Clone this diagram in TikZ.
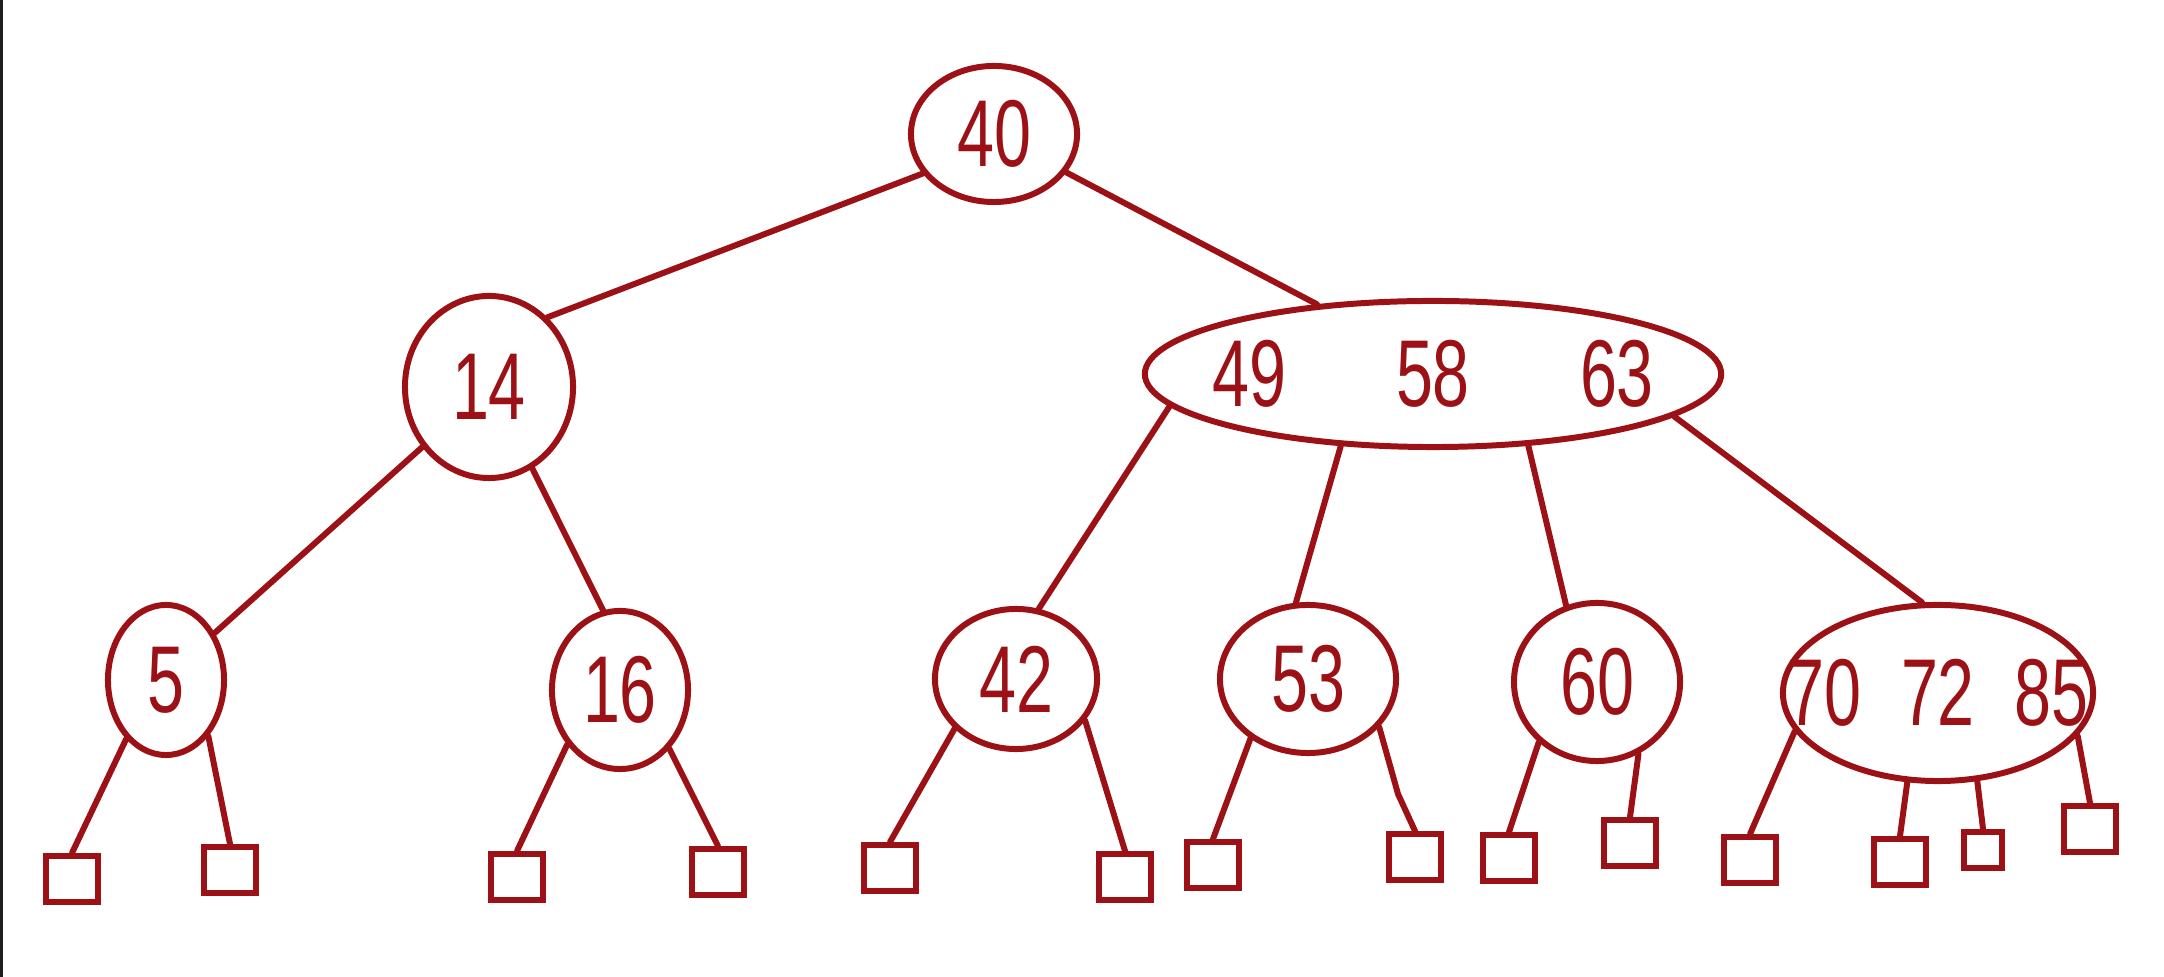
\documentclass[tikz,border=0pt]{standalone}
\usepackage{fontspec}
\setmainfont{Liberation Sans}
\newfontfamily\handfont{Liberation Sans}[FakeStretch=0.7]
\usetikzlibrary{shapes.geometric}
\definecolor{ink}{RGB}{155,17,22}
\definecolor{edgebar}{RGB}{30,30,34}
\begin{document}
\begin{tikzpicture}[x=0.01cm,y=-0.01cm,
  key/.style={ellipse, draw=ink, line width=1.7pt, inner sep=0pt},
  leaf/.style={rectangle, draw=ink, line width=1.7pt, minimum width=0.52cm, minimum height=0.46cm, inner sep=0pt},
  conn/.style={draw=ink, line width=1.7pt, line cap=round, line join=round},
  lbl/.style={text=ink, inner sep=0pt, font=\handfont\fontsize{27}{27}\selectfont}
]
\useasboundingbox (0,0) rectangle (2164,977);
\fill[white] (0,0) rectangle (2164,977);
\fill[edgebar] (0,0) rectangle (2.5,977);

% internal nodes
\node[key, minimum width=1.66cm, minimum height=1.36cm, label={[lbl]center:40}] (r) at (994,134) {};
\node[key, minimum width=1.68cm, minimum height=1.82cm, label={[lbl]center:14}] (n14) at (489,387) {};
\node[key, minimum width=5.76cm, minimum height=1.46cm, label={[lbl]center:{49\hspace{1.1cm}58\hspace{1.1cm}63}}] (big) at (1433,374) {};
\node[key, minimum width=1.16cm, minimum height=1.50cm, label={[lbl]center:5}] (n5) at (166,680) {};
\node[key, minimum width=1.36cm, minimum height=1.58cm, label={[lbl]center:16}] (n16) at (620,690) {};
\node[key, minimum width=1.62cm, minimum height=1.40cm, label={[lbl]center:42}] (n42) at (1016,679) {};
\node[key, minimum width=1.76cm, minimum height=1.48cm, label={[lbl]center:53}] (n53) at (1308,679) {};
\node[key, minimum width=1.66cm, minimum height=1.58cm, label={[lbl]center:60}] (n60) at (1597,682) {};
\node[key, minimum width=3.10cm, minimum height=1.76cm, label={[lbl]center:{70\hspace{0.4cm}72\hspace{0.4cm}85}}] (n70) at (1938,693) {};

% leaves
\node[leaf] (l1) at (72,879) {};
\node[leaf] (l2) at (230,870) {};
\node[leaf] (l3) at (517,877) {};
\node[leaf] (l4) at (718,872) {};
\node[leaf] (l5) at (890,868) {};
\node[leaf] (l6) at (1125,877) {};
\node[leaf] (l7) at (1213,865) {};
\node[leaf] (l8) at (1415,857) {};
\node[leaf] (l9) at (1509,858) {};
\node[leaf] (l10) at (1630,843) {};
\node[leaf] (l11) at (1750,860) {};
\node[leaf] (l12) at (1900,862) {};
\node[leaf, minimum width=0.38cm, minimum height=0.36cm] (l13) at (1983,850) {};
\node[leaf] (l14) at (2090,829) {};
\coordinate (k8) at (1398,794);

% connectors between keys
\draw[conn] (r.209) -- (n14.50);
\draw[conn] (r.332) -- (big.149);
\draw[conn] (n14.222) -- (n5.44);
\draw[conn] (n14.298) -- (n16.102);
\draw[conn] (big.187) -- (n42.72);
\draw[conn] (big.218) -- (n53.99);
\draw[conn] (big.323) -- (n60.112);
\draw[conn] (big.350) -- (n70.100);

% connectors to leaves
\draw[conn] (n5.236) -- (l1.north);
\draw[conn] (n5.307) -- (l2.north);
\draw[conn] (n16.226) -- (l3.north);
\draw[conn] (n16.310) -- (l4.north);
\draw[conn] (n42.219) -- (l5.north);
\draw[conn] (n42.329) -- (l6.north);
\draw[conn] (n53.226) -- (l7.north);
\draw[conn] (n53.326) -- (k8) -- (l8.north);
\draw[conn] (n60.226) -- (l9.north);
\draw[conn] (n60.300) -- (l10.north);
\draw[conn] (n70.195) -- (l11.north);
\draw[conn] (n70.251) -- (l12.north);
\draw[conn] (n70.294) -- (l13.north);
\draw[conn] (n70.343) -- (l14.north);
\end{tikzpicture}
\end{document}
